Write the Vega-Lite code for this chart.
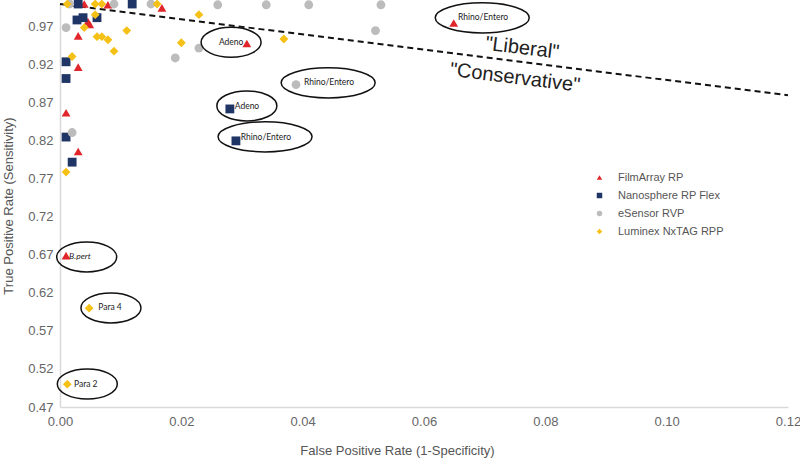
{
  "$schema": "https://vega.github.io/schema/vega-lite/v6.json",
  "width": 728,
  "height": 403,
  "autosize": "none",
  "padding": {"left": 60, "top": 4, "right": 12, "bottom": 55},
  "background": "white",
  "config": {
    "view": {"stroke": null},
    "font": "Liberation Sans"
  },
  "datasets": {
    "pts": [
      {"series": "FilmArray RP", "fpr": 0.0040, "tpr": 1.000},
      {"series": "FilmArray RP", "fpr": 0.0079, "tpr": 0.999},
      {"series": "FilmArray RP", "fpr": 0.0168, "tpr": 0.995},
      {"series": "FilmArray RP", "fpr": 0.0046, "tpr": 0.977},
      {"series": "FilmArray RP", "fpr": 0.0049, "tpr": 0.973},
      {"series": "FilmArray RP", "fpr": 0.0030, "tpr": 0.958},
      {"series": "FilmArray RP", "fpr": 0.0030, "tpr": 0.917},
      {"series": "FilmArray RP", "fpr": 0.0010, "tpr": 0.857},
      {"series": "FilmArray RP", "fpr": 0.0030, "tpr": 0.806},
      {"series": "FilmArray RP", "fpr": 0.0010, "tpr": 0.669},
      {"series": "FilmArray RP", "fpr": 0.0308, "tpr": 0.948},
      {"series": "FilmArray RP", "fpr": 0.0649, "tpr": 0.975},
      {"series": "Nanosphere RP Flex", "fpr": 0.0030, "tpr": 1.000},
      {"series": "Nanosphere RP Flex", "fpr": 0.0119, "tpr": 1.000},
      {"series": "Nanosphere RP Flex", "fpr": 0.0028, "tpr": 0.979},
      {"series": "Nanosphere RP Flex", "fpr": 0.0038, "tpr": 0.982},
      {"series": "Nanosphere RP Flex", "fpr": 0.0061, "tpr": 0.982},
      {"series": "Nanosphere RP Flex", "fpr": 0.0010, "tpr": 0.924},
      {"series": "Nanosphere RP Flex", "fpr": 0.0010, "tpr": 0.902},
      {"series": "Nanosphere RP Flex", "fpr": 0.0010, "tpr": 0.825},
      {"series": "Nanosphere RP Flex", "fpr": 0.0020, "tpr": 0.792},
      {"series": "Nanosphere RP Flex", "fpr": 0.0280, "tpr": 0.862},
      {"series": "Nanosphere RP Flex", "fpr": 0.0290, "tpr": 0.820},
      {"series": "eSensor RVP", "fpr": 0.0016, "tpr": 1.000},
      {"series": "eSensor RVP", "fpr": 0.0089, "tpr": 1.000},
      {"series": "eSensor RVP", "fpr": 0.0150, "tpr": 1.000},
      {"series": "eSensor RVP", "fpr": 0.0260, "tpr": 0.999},
      {"series": "eSensor RVP", "fpr": 0.0340, "tpr": 0.999},
      {"series": "eSensor RVP", "fpr": 0.0410, "tpr": 0.999},
      {"series": "eSensor RVP", "fpr": 0.0529, "tpr": 0.999},
      {"series": "eSensor RVP", "fpr": 0.0520, "tpr": 0.965},
      {"series": "eSensor RVP", "fpr": 0.0010, "tpr": 0.969},
      {"series": "eSensor RVP", "fpr": 0.0190, "tpr": 0.929},
      {"series": "eSensor RVP", "fpr": 0.0229, "tpr": 0.942},
      {"series": "eSensor RVP", "fpr": 0.0020, "tpr": 0.831},
      {"series": "eSensor RVP", "fpr": 0.0389, "tpr": 0.894},
      {"series": "Luminex NxTAG RPP", "fpr": 0.0012, "tpr": 1.000},
      {"series": "Luminex NxTAG RPP", "fpr": 0.0058, "tpr": 1.000},
      {"series": "Luminex NxTAG RPP", "fpr": 0.0069, "tpr": 1.000},
      {"series": "Luminex NxTAG RPP", "fpr": 0.0160, "tpr": 1.000},
      {"series": "Luminex NxTAG RPP", "fpr": 0.0058, "tpr": 0.986},
      {"series": "Luminex NxTAG RPP", "fpr": 0.0229, "tpr": 0.986},
      {"series": "Luminex NxTAG RPP", "fpr": 0.0040, "tpr": 0.969},
      {"series": "Luminex NxTAG RPP", "fpr": 0.0061, "tpr": 0.957},
      {"series": "Luminex NxTAG RPP", "fpr": 0.0069, "tpr": 0.957},
      {"series": "Luminex NxTAG RPP", "fpr": 0.0079, "tpr": 0.953},
      {"series": "Luminex NxTAG RPP", "fpr": 0.0110, "tpr": 0.965},
      {"series": "Luminex NxTAG RPP", "fpr": 0.0089, "tpr": 0.938},
      {"series": "Luminex NxTAG RPP", "fpr": 0.0200, "tpr": 0.949},
      {"series": "Luminex NxTAG RPP", "fpr": 0.0369, "tpr": 0.954},
      {"series": "Luminex NxTAG RPP", "fpr": 0.0020, "tpr": 0.931},
      {"series": "Luminex NxTAG RPP", "fpr": 0.0010, "tpr": 0.779},
      {"series": "Luminex NxTAG RPP", "fpr": 0.0048, "tpr": 0.600},
      {"series": "Luminex NxTAG RPP", "fpr": 0.0012, "tpr": 0.500}
    ],
    "ellipses": [
      {"kind": "small", "fpr": 0.0282, "tpr": 0.9496},
      {"kind": "large", "fpr": 0.0442, "tpr": 0.8963},
      {"kind": "small", "fpr": 0.0308, "tpr": 0.8660},
      {"kind": "large", "fpr": 0.0338, "tpr": 0.8253},
      {"kind": "large", "fpr": 0.0696, "tpr": 0.9818},
      {"kind": "small", "fpr": 0.0044, "tpr": 0.6674},
      {"kind": "small", "fpr": 0.0084, "tpr": 0.6003},
      {"kind": "small", "fpr": 0.0045, "tpr": 0.5003}
    ],
    "labels": [
      {"label": "Adeno", "style": "normal", "fpr": 0.0262, "tpr": 0.950},
      {"label": "Rhino/Entero", "style": "normal", "fpr": 0.0402, "tpr": 0.8976},
      {"label": "Adeno", "style": "normal", "fpr": 0.0288, "tpr": 0.866},
      {"label": "Rhino/Entero", "style": "normal", "fpr": 0.0298, "tpr": 0.8253},
      {"label": "Rhino/Entero", "style": "normal", "fpr": 0.0656, "tpr": 0.9832},
      {"label": "B.pert", "style": "italic", "fpr": 0.0015, "tpr": 0.6687},
      {"label": "Para 4", "style": "normal", "fpr": 0.0063, "tpr": 0.6016},
      {"label": "Para 2", "style": "normal", "fpr": 0.0023, "tpr": 0.5003}
    ],
    "line": [
      {"fpr": 0.0, "tpr": 1.0},
      {"fpr": 0.12, "tpr": 0.88}
    ],
    "regions": [
      {"label": "\"Liberal\"", "fpr": 0.0762, "tpr": 0.942},
      {"label": "\"Conservative\"", "fpr": 0.0750, "tpr": 0.903}
    ]
  },
  "encoding": {
    "x": {
      "field": "fpr", "type": "quantitative",
      "scale": {"domain": [0, 0.12], "nice": false, "zero": false},
      "axis": {
        "title": "False Positive Rate (1-Specificity)",
        "values": [0, 0.02, 0.04, 0.06, 0.08, 0.1, 0.12],
        "format": ".2f",
        "grid": false, "ticks": false, "labelFlush": false,
        "domainColor": "#d9d9d9", "domainWidth": 1.5,
        "labelColor": "#666666", "labelFontSize": 13, "labelPadding": 8,
        "labelFont": "Liberation Sans",
        "titleColor": "#555555", "titleFontSize": 13, "titleFontWeight": "normal",
        "titleFont": "Liberation Sans", "titlePadding": 16, "titleX": 337
      }
    },
    "y": {
      "field": "tpr", "type": "quantitative",
      "scale": {"domain": [0.47, 1.0], "nice": false, "zero": false},
      "axis": {
        "title": "True Positive Rate (Sensitivity)",
        "values": [0.47, 0.52, 0.57, 0.62, 0.67, 0.72, 0.77, 0.82, 0.87, 0.92, 0.97],
        "format": ".2f",
        "grid": false, "ticks": false, "labelFlush": false,
        "domainColor": "#d9d9d9", "domainWidth": 1.5,
        "labelColor": "#666666", "labelFontSize": 13, "labelPadding": 7,
        "labelFont": "Liberation Sans",
        "titleColor": "#555555", "titleFontSize": 13, "titleFontWeight": "normal",
        "titleFont": "Liberation Sans", "titlePadding": 12
      }
    }
  },
  "layer": [
    {
      "data": {"name": "line"},
      "mark": {"type": "line", "color": "#111111", "strokeWidth": 2, "strokeDash": [6, 4], "clip": false},
      "encoding": {}
    },
    {
      "data": {"name": "pts"},
      "mark": {"type": "point", "filled": true, "opacity": 1, "size": 78, "clip": false},
      "encoding": {
        "color": {
          "field": "series", "type": "nominal",
          "scale": {
            "domain": ["FilmArray RP", "Nanosphere RP Flex", "eSensor RVP", "Luminex NxTAG RPP"],
            "range": ["#e0262b", "#1f3566", "#bcbcbc", "#f5c116"]
          },
          "legend": {
            "title": null, "orient": "none", "legendX": 534, "legendY": 168,
            "labelFont": "Liberation Sans", "labelFontSize": 11, "labelColor": "#555555",
            "symbolSize": 30, "rowPadding": 6, "labelOffset": 13
          }
        },
        "shape": {
          "field": "series", "type": "nominal",
          "scale": {
            "domain": ["FilmArray RP", "Nanosphere RP Flex", "eSensor RVP", "Luminex NxTAG RPP"],
            "range": ["triangle-up", "square", "circle", "diamond"]
          }
        }
      }
    },
    {
      "data": {"name": "ellipses"},
      "transform": [{"filter": "datum.kind === 'small'"}],
      "mark": {
        "type": "point", "filled": false, "stroke": "#111111", "strokeWidth": 1.5, "opacity": 1,
        "size": 3600, "clip": false,
        "shape": "M -1 0 C -1 -0.276 -0.552 -0.5 0 -0.5 C 0.552 -0.5 1 -0.276 1 0 C 1 0.276 0.552 0.5 0 0.5 C -0.552 0.5 -1 0.276 -1 0 Z"
      }
    },
    {
      "data": {"name": "ellipses"},
      "transform": [{"filter": "datum.kind === 'large'"}],
      "mark": {
        "type": "point", "filled": false, "stroke": "#111111", "strokeWidth": 1.5, "opacity": 1,
        "size": 8836, "clip": false,
        "shape": "M -1 0 C -1 -0.177 -0.552 -0.32 0 -0.32 C 0.552 -0.32 1 -0.177 1 0 C 1 0.177 0.552 0.32 0 0.32 C -0.552 0.32 -1 0.177 -1 0 Z"
      }
    },
    {
      "data": {"name": "labels"},
      "transform": [{"filter": "datum.style === 'normal'"}],
      "mark": {"type": "text", "align": "left", "baseline": "middle", "font": "Lato", "fontSize": 8.5, "color": "#222222", "clip": false},
      "encoding": {"text": {"field": "label"}}
    },
    {
      "data": {"name": "labels"},
      "transform": [{"filter": "datum.style === 'italic'"}],
      "mark": {"type": "text", "align": "left", "baseline": "middle", "font": "Lato", "fontSize": 8.5, "fontStyle": "italic", "color": "#222222", "clip": false},
      "encoding": {"text": {"field": "label"}}
    },
    {
      "data": {"name": "regions"},
      "mark": {"type": "text", "align": "center", "baseline": "middle", "font": "Liberation Sans", "fontSize": 20, "angle": 7, "color": "#222222", "clip": false},
      "encoding": {"text": {"field": "label"}}
    }
  ]
}
